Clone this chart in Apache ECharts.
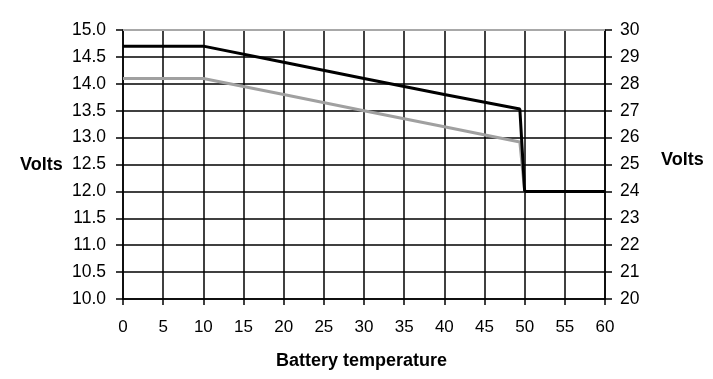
<!DOCTYPE html>
<html><head><meta charset="utf-8">
<script src="https://cdn.jsdelivr.net/npm/echarts@6/dist/echarts.min.js"></script>
<style>html,body{margin:0;padding:0;background:#fff}#c{width:713px;height:379px}</style>
</head><body><div id="c"></div>
<script>
const temps = [0, 10, 20, 30, 40, 49.4, 50, 60];
const blackVolts = [14.7, 14.7, 14.4, 14.1, 13.8, 13.53, 12.0, 12.0];
const grayVolts = [14.1, 14.1, 13.8, 13.5, 13.2, 12.92, 12.0, 12.0];
const leftTicks = {min: 10, max: 15, interval: 0.5};
const rightTicks = {min: 20, max: 30, interval: 1};
const xTicks = {min: 0, max: 60, interval: 5};

const font = '"Liberation Sans", Arial, sans-serif';
const chart = echarts.init(document.getElementById('c'), null, {renderer: 'canvas'});
chart.setOption({
  animation: false,
  backgroundColor: '#fff',
  grid: {left: 123, right: 108, top: 30, bottom: 80},
  xAxis: {
    type: 'value', min: xTicks.min, max: xTicks.max, interval: xTicks.interval,
    axisLine: {show: true, lineStyle: {color: '#000', width: 1.5}},
    axisTick: {show: true, length: 6, lineStyle: {color: '#000', width: 1.5}},
    axisLabel: {color: '#000', fontSize: 17, fontFamily: font, margin: 20},
    splitLine: {show: true, lineStyle: {color: '#000', width: 1.5}}
  },
  yAxis: [{
    type: 'value', min: leftTicks.min, max: leftTicks.max, interval: leftTicks.interval,
    axisLine: {show: true, lineStyle: {color: '#000', width: 1.5}},
    axisTick: {show: true, length: 7, lineStyle: {color: '#000', width: 1.5}},
    axisLabel: {color: '#000', fontSize: 17.5, fontFamily: font, margin: 17, formatter: v => v.toFixed(1)},
    splitLine: {show: true, lineStyle: {color: '#000', width: 1.5}}
  }, {
    type: 'value', position: 'right', min: rightTicks.min, max: rightTicks.max, interval: rightTicks.interval,
    axisLine: {show: true, lineStyle: {color: '#000', width: 1.5}},
    axisTick: {show: true, length: 7, lineStyle: {color: '#000', width: 1.5}},
    axisLabel: {color: '#000', fontSize: 17.5, fontFamily: font, margin: 15},
    splitLine: {show: false}
  }],
  graphic: [
    {type: 'text', left: 20, top: 156, style: {text: 'Volts', font: 'bold 18px ' + font, fill: '#000'}},
    {type: 'text', left: 661, top: 151, style: {text: 'Volts', font: 'bold 18px ' + font, fill: '#000'}},
    {type: 'text', left: 276, top: 352, style: {text: 'Battery temperature', font: 'bold 18px ' + font, fill: '#000'}}
  ],
  series: [{
    type: 'line', yAxisIndex: 0, symbol: 'none',
    data: temps.map((t, i) => [t, grayVolts[i]]),
    lineStyle: {color: '#a0a0a0', width: 3}, z: 3,
    markLine: {
      silent: true, symbol: 'none', label: {show: false},
      lineStyle: {color: '#a8a8a8', width: 2, type: 'solid'},
      data: [{yAxis: leftTicks.max}]
    }
  }, {
    type: 'line', yAxisIndex: 0, symbol: 'none',
    data: temps.map((t, i) => [t, blackVolts[i]]),
    lineStyle: {color: '#000', width: 3}, z: 4
  }]
});
</script></body></html>
